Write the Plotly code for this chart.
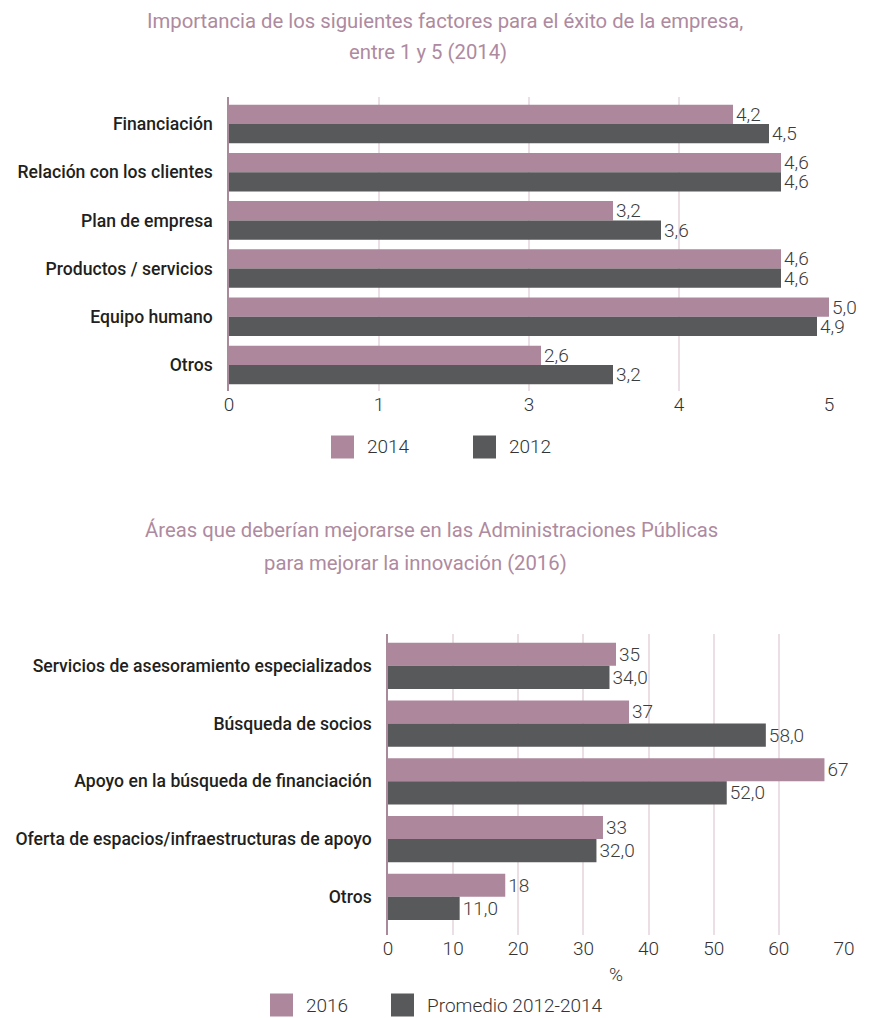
import plotly.graph_objects as go

# ---------------- data ----------------
top_title_1 = "Importancia de los siguientes factores para el éxito de la empresa,"
top_title_2 = "entre 1 y 5 (2014)"
top_categories = ["Financiación", "Relación con los clientes", "Plan de empresa",
                  "Productos / servicios", "Equipo humano", "Otros"]
top_series_names = ["2014", "2012"]
top_2014 = [4.2, 4.6, 3.2, 4.6, 5.0, 2.6]
top_2012 = [4.5, 4.6, 3.6, 4.6, 4.9, 3.2]

bot_title_1 = "Áreas que deberían mejorarse en las Administraciones Públicas"
bot_title_2 = "para mejorar la innovación (2016)"
bot_categories = ["Servicios de asesoramiento especializados", "Búsqueda de socios",
                  "Apoyo en la búsqueda de financiación",
                  "Oferta de espacios/infraestructuras de apoyo", "Otros"]
bot_series_names = ["2016", "Promedio 2012-2014"]
bot_2016 = [35, 37, 67, 33, 18]
bot_prom = [34.0, 58.0, 52.0, 32.0, 11.0]
bot_axis_title = "%"

# ---------------- style ----------------
W, H = 873, 1018
OFF = 8  # page body margin
PINK = "#AD879B"
DARK = "#58595B"
TITLE_C = "#AE8AA0"
GRID_C = "#EADFE5"
AXIS_C = "#A88A9B"
TXT_C = "#231F20"
LBL_C = "#3C3C3C"
FONT = "Roboto, Lato, sans-serif"


def px_x(p):
    return (p - OFF) / W


def px_y(p):
    return 1 - (p - OFF) / H


def fmt1(v):
    return f"{v:.1f}".replace(".", ",")


fig = go.Figure()

# top chart
fig.add_trace(go.Bar(y=top_categories, x=top_2014, name=top_series_names[0], orientation="h",
                     marker_color=PINK, text=[fmt1(v) for v in top_2014],
                     textposition="outside", xaxis="x", yaxis="y", showlegend=False))
fig.add_trace(go.Bar(y=top_categories, x=top_2012, name=top_series_names[1], orientation="h",
                     marker_color=DARK, text=[fmt1(v) for v in top_2012],
                     textposition="outside", xaxis="x", yaxis="y", showlegend=False))
# bottom chart
fig.add_trace(go.Bar(y=bot_categories, x=bot_2016, name=bot_series_names[0], orientation="h",
                     marker_color=PINK, text=[f"{v:d}" for v in bot_2016],
                     textposition="outside", xaxis="x2", yaxis="y2", showlegend=False))
fig.add_trace(go.Bar(y=bot_categories, x=bot_prom, name=bot_series_names[1], orientation="h",
                     marker_color=DARK, text=[fmt1(v) for v in bot_prom],
                     textposition="outside", xaxis="x2", yaxis="y2", showlegend=False))

fig.update_traces(textfont=dict(family=FONT, size=19, color=LBL_C, weight=300), cliponaxis=False,
                  constraintext="none", marker_line_width=0)

axis_common = dict(showgrid=True, gridcolor=GRID_C, gridwidth=1.5, zeroline=False,
                   showline=False, ticks="", automargin=False,
                   tickfont=dict(family=FONT, size=19, color="#333333", weight=300))
ycommon = dict(showgrid=False, zeroline=False, showline=True, linecolor=AXIS_C, linewidth=1.5,
               ticks="", ticklabelstandoff=11, automargin=False,
               tickfont=dict(family=FONT, size=17.6, color=TXT_C, weight=500))

fig.update_layout(
    width=W, height=H, margin=dict(l=0, r=0, t=0, b=0),
    paper_bgcolor="white", plot_bgcolor="white",
    barmode="group", showlegend=False,
    xaxis=dict(domain=[px_x(229), px_x(829)], range=[0, 5], tick0=0, dtick=1.25,
               tickformat=".0f", anchor="y", **axis_common),
    yaxis=dict(domain=[px_y(391), px_y(97)], range=[5.54, -0.56], anchor="x",
               categoryorder="array", categoryarray=top_categories, **ycommon),
    xaxis2=dict(domain=[px_x(388), px_x(844)], range=[0, 70], tick0=0, dtick=10,
                anchor="y2", title=dict(text=bot_axis_title,
                                        font=dict(family=FONT, size=19, color="#333333", weight=300),
                                        standoff=8),
                **axis_common),
    yaxis2=dict(domain=[px_y(935), px_y(634)], range=[4.66, -0.55], anchor="x2",
                categoryorder="array", categoryarray=bot_categories, **ycommon),
    bargap=0.2,
)

# titles
for text, xc, yc in [(top_title_1, 445, 21), (top_title_2, 428, 52),
                     (bot_title_1, 431, 530), (bot_title_2, 415, 563)]:
    fig.add_annotation(text=text, x=px_x(xc), y=px_y(yc), xref="paper", yref="paper",
                       xanchor="center", yanchor="middle", showarrow=False, borderpad=0,
                       font=dict(family=FONT, size=20.3, color=TITLE_C))

# legends (drawn as squares + labels)
legend_items = [
    (top_series_names[0], PINK, 331, 447), (top_series_names[1], DARK, 473, 447),
    (bot_series_names[0], PINK, 270, 1005), (bot_series_names[1], DARK, 391, 1005),
]
for name, color, x0, yc in legend_items:
    fig.add_shape(type="rect", xref="paper", yref="paper",
                  x0=px_x(x0), x1=px_x(x0 + 23), y0=px_y(yc - 11.5), y1=px_y(yc + 11.5),
                  fillcolor=color, line_width=0)
    fig.add_annotation(text=name, x=px_x(x0 + 34), y=px_y(yc), xref="paper", yref="paper",
                       xanchor="left", yanchor="middle", showarrow=False,
                       font=dict(family=FONT, size=19, color="#333333", weight=300))

fig.write_html("out.html")
